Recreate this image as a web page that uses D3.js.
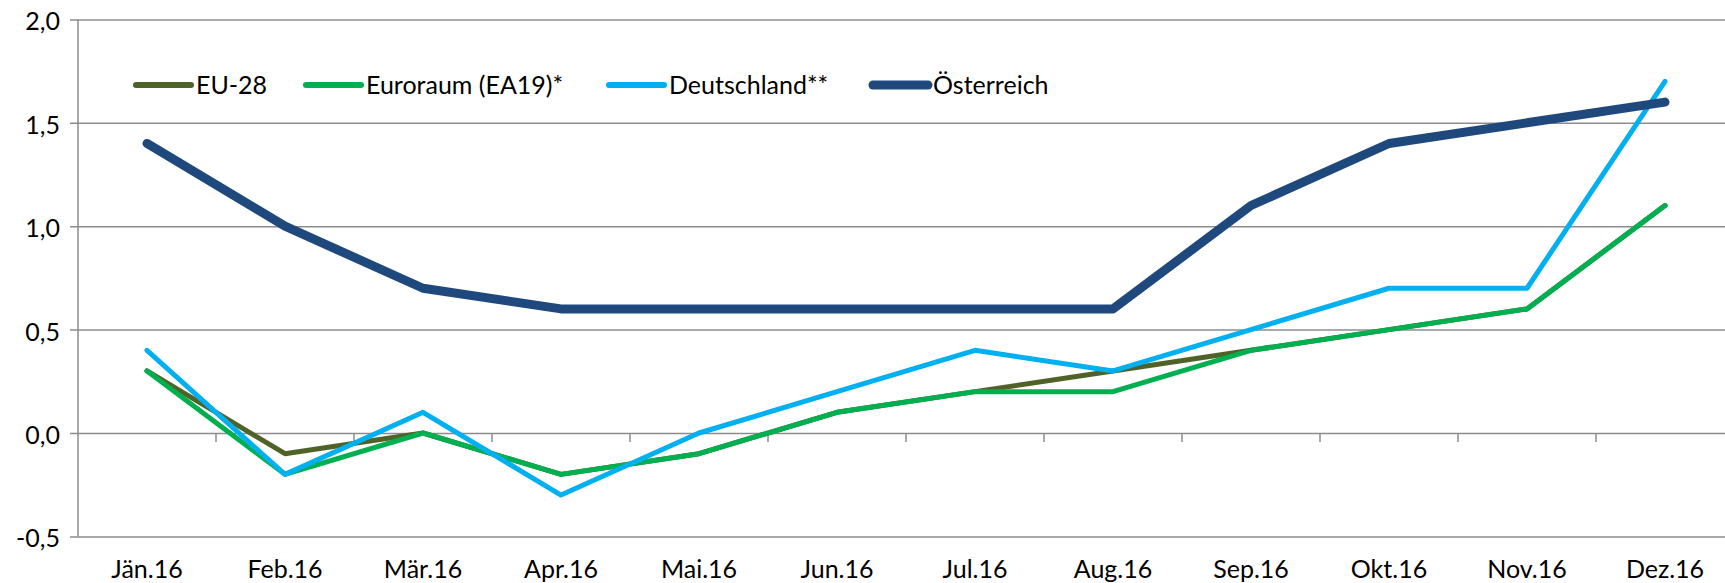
<!DOCTYPE html>
<html>
<head>
<meta charset="utf-8">
<script src="https://cdn.jsdelivr.net/npm/d3@7"></script>
<style>
  body { margin: 0; background: #fff; }
  svg text { font-family: Lato, "Open Sans", sans-serif; fill: #000; }
</style>
</head>
<body>
<svg id="chart" width="1725" height="583"></svg>
<script>
// monthly values, 2016
const months = ["Jän.16", "Feb.16", "Mär.16", "Apr.16", "Mai.16", "Jun.16",
                "Jul.16", "Aug.16", "Sep.16", "Okt.16", "Nov.16", "Dez.16"];
const eu28        = [0.3, -0.1, 0.0, -0.2, -0.1, 0.1, 0.2, 0.3, 0.4, 0.5, 0.6, 1.1];
const euroraum    = [0.3, -0.2, 0.0, -0.2, -0.1, 0.1, 0.2, 0.2, 0.4, 0.5, 0.6, 1.1];
const deutschland = [0.4, -0.2, 0.1, -0.3, 0.0, 0.2, 0.4, 0.3, 0.5, 0.7, 0.7, 1.7];
const oesterreich = [1.4, 1.0, 0.7, 0.6, 0.6, 0.6, 0.6, 0.6, 1.1, 1.4, 1.5, 1.6];
const yTicks = [-0.5, 0.0, 0.5, 1.0, 1.5, 2.0];

const series = [
    {name: "EU-28", values: eu28, color: "#4f6228", width: 5},
    {name: "Euroraum (EA19)*", values: euroraum, color: "#00b050", width: 5},
    {name: "Deutschland**", values: deutschland, color: "#00b0f0", width: 5},
    {name: "Österreich", values: oesterreich, color: "#1f497d", width: 9}
];

const PLOT_LEFT = 78;
const BAND = 138;
const GRID = "#8c8c8c";

let svg = d3.select("#chart");

let x = d3.scaleBand()
    .domain(months)
    .range([PLOT_LEFT, PLOT_LEFT + BAND * months.length]);

let y = d3.scaleLinear()
    .domain([-0.5, 2.0])
    .range([536.4, 19.4]);

let fmt = v => d3.format(".1f")(v).replace(".", ",").replace("−", "-");

// gridlines + y labels
let yAxis = d3.axisLeft(y)
    .tickValues(yTicks)
    .tickSize(-(1725 - PLOT_LEFT))
    .tickPadding(18)
    .tickFormat(fmt);

let gy = svg.append("g")
    .attr("id", "yAxis")
    .attr("transform", `translate(${PLOT_LEFT},0)`)
    .call(yAxis);
gy.select(".domain").remove();
gy.selectAll(".tick line")
    .attr("x1", -8)
    .attr("stroke", GRID)
    .attr("stroke-width", 1.5);
gy.selectAll(".tick text")
    .attr("dy", "0.42em")
    .style("font-size", "25px");

// vertical axis line
svg.append("line")
    .attr("x1", PLOT_LEFT).attr("x2", PLOT_LEFT)
    .attr("y1", y(2.0)).attr("y2", y(-0.5))
    .attr("stroke", GRID)
    .attr("stroke-width", 1.5);

// category ticks on the zero line
let bounds = months.slice(1).map(m => x(m));
svg.append("g")
    .selectAll("line")
    .data(bounds)
    .join("line")
    .attr("x1", d => d).attr("x2", d => d)
    .attr("y1", y(0)).attr("y2", y(0) + 9)
    .attr("stroke", GRID)
    .attr("stroke-width", 1.5);

// month labels
svg.append("g")
    .selectAll("text")
    .data(months)
    .join("text")
    .attr("x", d => x(d) + x.bandwidth() / 2)
    .attr("y", 578)
    .attr("text-anchor", "middle")
    .style("font-size", "25px")
    .text(d => d);

// lines
let line = d3.line()
    .x((d, i) => x(months[i]) + x.bandwidth() / 2)
    .y(d => y(d));

svg.append("g")
    .selectAll("path")
    .data(series)
    .join("path")
    .attr("d", d => line(d.values))
    .attr("fill", "none")
    .attr("stroke", d => d.color)
    .attr("stroke-width", d => d.width)
    .attr("stroke-linejoin", "round")
    .attr("stroke-linecap", "round");

// legend
const legendX = [136, 306, 609, 873];
let legend = svg.append("g")
    .selectAll("g")
    .data(series)
    .join("g")
    .attr("transform", (d, i) => `translate(${legendX[i]},85)`);

legend.append("line")
    .attr("x1", 0).attr("x2", 55)
    .attr("stroke", d => d.color)
    .attr("stroke-width", d => d.width === 9 ? 9 : 6)
    .attr("stroke-linecap", "round");

legend.append("text")
    .attr("x", 60)
    .attr("dy", "0.36em")
    .style("font-size", "25px")
    .text(d => d.name);
</script>
</body>
</html>
